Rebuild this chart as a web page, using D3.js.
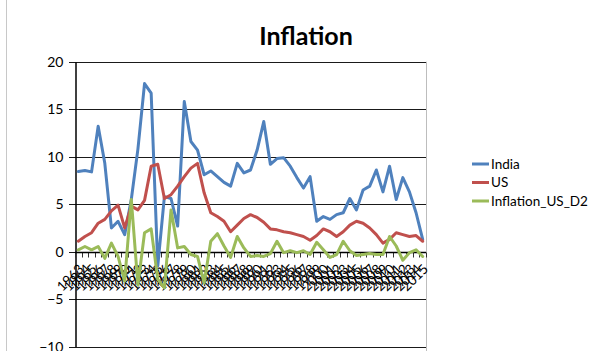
<!DOCTYPE html>
<html>
<head>
<meta charset="utf-8">
<script src="https://cdn.jsdelivr.net/npm/d3@7/dist/d3.min.js"></script>
<style>
  html, body { margin: 0; padding: 0; background: #fff; }
  svg { display: block; font-family: Lato, "Open Sans", sans-serif; }
</style>
</head>
<body>
<svg id="chart" width="598" height="351"></svg>
<script>
// Years on the category axis
const years = [
  "1963","1964","1965","1966","1967","1968","1969","1970","1971","1972",
  "1973","1974","1975","1976","1977","1978","1979","1980","1981","1982",
  "1983","1984","1985","1986","1987","1988","1989","1990","1991","1992",
  "1993","1994","1995","1996","1997","1998","1999","2000","2001","2002",
  "2003","2004","2005","2006","2007","2008","2009","2010","2011","2012",
  "2013","2014","2015"
];

// Annual inflation, %
const india = [8.45, 8.55, 8.4, 13.2, 9.3, 2.5, 3.2, 1.8, 5.5, 10.8,
  17.7, 16.7, -1.5, 5.8, 5.6, 2.7, 15.8, 11.6, 10.7, 8.1,
  8.5, 7.9, 7.3, 6.9, 9.3, 8.3, 8.6, 10.7, 13.7, 9.2,
  9.8, 9.9, 9.0, 7.8, 6.7, 7.9, 3.2, 3.7, 3.4, 3.9,
  4.1, 5.6, 4.4, 6.5, 6.9, 8.6, 6.3, 9.0, 5.5, 7.8,
  6.3, 4.1, 1.3];

const us = [1.1, 1.6, 2.0, 3.0, 3.4, 4.3, 4.9, 2.5, 4.8, 4.4,
  5.4, 9.0, 9.2, 5.6, 6.0, 6.9, 7.9, 8.8, 9.3, 6.2,
  4.1, 3.7, 3.2, 2.1, 2.8, 3.5, 3.9, 3.6, 3.1, 2.4,
  2.3, 2.1, 2.0, 1.8, 1.6, 1.2, 1.7, 2.4, 2.1, 1.6,
  2.1, 2.8, 3.2, 3.0, 2.5, 1.8, 0.9, 1.3, 2.0, 1.8,
  1.6, 1.7, 1.1];

const usD2 = [0.2, 0.55, 0.2, 0.55, -0.7, 0.9, -0.5, -3.1, 5.5, -3.5,
  2.0, 2.4, -2.9, -3.8, 4.4, 0.4, 0.55, -0.3, -0.5, -3.3,
  1.1, 1.9, 0.6, -0.6, 1.6, 0.4, -0.5, -0.4, -0.5, -0.2,
  1.1, -0.1, 0.1, -0.1, 0.1, -0.3, 1.0, 0.2, -0.6, -0.3,
  1.1, 0.1, -0.4, -0.3, -0.2, -0.3, -0.3, 1.6, 0.6, -0.9,
  -0.1, 0.2, -0.5];

const yTicks = [20, 15, 10, 5, 0, -5, -10];

const seriesNames = ["India", "US", "Inflation_US_D2"];
const seriesColors = ["#4F81BD", "#C0504D", "#9BBB59"];
const seriesValues = [india, us, usD2];

const svg = d3.select("#chart");

// Chart-area frame
svg.append("line")
  .attr("x1", 6.5).attr("x2", 6.5).attr("y1", 0).attr("y2", 351)
  .attr("stroke", "#c8c8c8").attr("stroke-width", 1);

const plot = { left: 75, right: 426, top: 61.7, bottom: 346.7 };

const x = d3.scaleBand().domain(years).range([plot.left, plot.right]).padding(0);
const y = d3.scaleLinear().domain([-10, 20]).range([plot.bottom, plot.top]);
const cx = d => x(d) + x.bandwidth() / 2;

// Title
svg.append("text")
  .attr("x", 306).attr("y", 45)
  .attr("text-anchor", "middle")
  .attr("font-size", 25).attr("font-weight", 700)
  .attr("fill", "#000")
  .text("Inflation");

// Plot-area right border
svg.append("line")
  .attr("x1", plot.right + 0.5).attr("x2", plot.right + 0.5)
  .attr("y1", plot.top).attr("y2", 351)
  .attr("stroke", "#bdbdbd").attr("stroke-width", 1);

// Horizontal gridlines
svg.append("g")
  .selectAll("line")
  .data(yTicks)
  .join("line")
  .attr("x1", plot.left - 6).attr("x2", plot.right)
  .attr("y1", d => Math.round(y(d)) + 0.5).attr("y2", d => Math.round(y(d)) + 0.5)
  .attr("stroke", "#1a1a1a").attr("stroke-width", 1);

// Value axis
const yAxis = d3.axisLeft(y).tickValues(yTicks).tickSize(0).tickPadding(12);
const yg = svg.append("g").attr("transform", `translate(${plot.left + 0.5},0)`).call(yAxis);
yg.select(".domain").attr("stroke", "#000").attr("stroke-width", 1.5);
yg.selectAll("text").attr("font-size", 14).attr("font-family", "Lato, sans-serif").attr("fill", "#000");

// Category axis along zero
const y0 = Math.round(y(0)) + 0.5;
const bounds = years.map(d => x(d)).concat([plot.right]);
svg.append("g")
  .selectAll("line")
  .data(bounds)
  .join("line")
  .attr("x1", d => Math.round(d) + 0.5).attr("x2", d => Math.round(d) + 0.5)
  .attr("y1", y0).attr("y2", y0 + 5)
  .attr("stroke", "#333").attr("stroke-width", 1);
svg.append("line")
  .attr("x1", plot.left).attr("x2", plot.right)
  .attr("y1", y0).attr("y2", y0)
  .attr("stroke", "#000").attr("stroke-width", 1.5);

svg.append("g")
  .selectAll("text")
  .data(years)
  .join("text")
  .attr("transform", d => `translate(${cx(d) + 3},${y0 + 14}) rotate(-45)`)
  .attr("text-anchor", "end")
  .attr("dy", "0.35em")
  .attr("font-size", 13.5)
  .attr("fill", "#000")
  .text(d => d);

// Series lines
const line = d3.line()
  .x((v, i) => cx(years[i]))
  .y(v => y(v));

seriesValues.forEach((vals, k) => {
  svg.append("path")
    .datum(vals)
    .attr("fill", "none")
    .attr("stroke", seriesColors[k])
    .attr("stroke-width", 3)
    .attr("stroke-linejoin", "round")
    .attr("stroke-linecap", "round")
    .attr("d", line);
});

// Legend
const legend = svg.append("g").attr("transform", "translate(472,164)");
seriesNames.forEach((name, k) => {
  const g = legend.append("g").attr("transform", `translate(0,${k * 18.5})`);
  g.append("line")
    .attr("x1", 0).attr("x2", 17)
    .attr("stroke", seriesColors[k]).attr("stroke-width", 3);
  g.append("text")
    .attr("x", 19).attr("dy", "0.35em")
    .attr("font-size", 13.5).attr("fill", "#000")
    .text(name);
});
</script>
</body>
</html>
